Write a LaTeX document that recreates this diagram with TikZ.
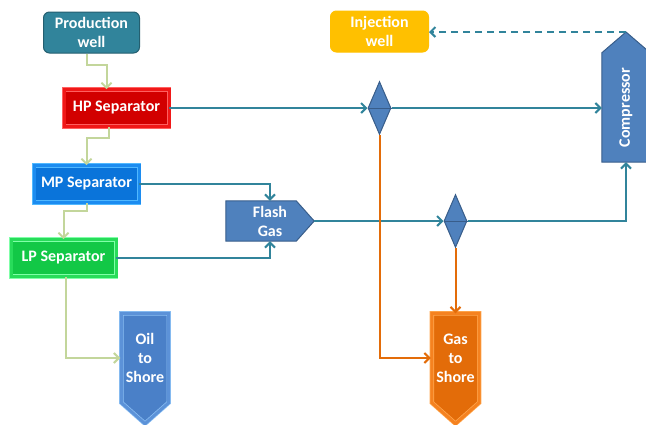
\documentclass[tikz,border=0pt]{standalone}
\usepackage{fontspec}
\setmainfont{Carlito}
\usetikzlibrary{shapes.geometric,arrows.meta}
\pgfdeclarelayer{background}
\pgfsetlayers{background,main}
\definecolor{wellteal}{HTML}{31849B}
\definecolor{welldark}{HTML}{245F70}
\definecolor{injyellow}{HTML}{FFC000}
\definecolor{hpred}{HTML}{D20000}
\definecolor{hpband}{HTML}{F01818}
\definecolor{hplight}{HTML}{FF6060}
\definecolor{mpblue}{HTML}{0A74DA}
\definecolor{mpband}{HTML}{1C8CF0}
\definecolor{mplight}{HTML}{50B8FF}
\definecolor{lpgreen}{HTML}{12C846}
\definecolor{lpband}{HTML}{28DC5A}
\definecolor{lplight}{HTML}{80FFA8}
\definecolor{oilblue}{HTML}{4A80C8}
\definecolor{oilband}{HTML}{5C92D8}
\definecolor{oillight}{HTML}{8CC0F4}
\definecolor{gasorange}{HTML}{E36C09}
\definecolor{gasband}{HTML}{F58220}
\definecolor{gaslight}{HTML}{FFA850}
\definecolor{unitblue}{HTML}{4F81BD}
\definecolor{unitdark}{HTML}{385D8A}
\definecolor{flowteal}{HTML}{31849B}
\definecolor{feedgreen}{HTML}{C3D69B}
\tikzstyle{box}=[rectangle, text=white, font=\bfseries\fontsize{16}{19}\selectfont, align=center, inner sep=0pt]
\tikzstyle{well}=[box, rounded corners=6pt, draw, line width=1pt, minimum width=96pt, minimum height=41pt]
\tikzstyle{separator}=[box, draw, line width=0.7pt, double distance=3pt, minimum width=105pt, minimum height=37pt]
\tikzstyle{shore}=[box, minimum width=47pt, minimum height=89pt]
\tikzstyle{bevel}=[line width=0.7pt, double distance=3pt, line join=miter]
\tikzstyle{unitline}=[fill=unitblue, draw=unitdark, line width=1pt]
\tikzstyle{valve}=[diamond, unitline, minimum width=23pt, minimum height=53pt, inner sep=0pt]
\tikzstyle{flow}=[draw=flowteal, line width=2pt, -{Straight Barb[length=5pt,width=10pt]}]
\tikzstyle{feed}=[flow, draw=feedgreen]
\tikzstyle{gasline}=[flow, draw=gasorange]
\begin{document}
\begin{tikzpicture}[x=1pt, y=-1pt]
            \useasboundingbox (0,0) rectangle (646,424);

            % wells and separators
            \node[well, fill=wellteal, draw=welldark] (prod) at (91.5,32.5) {Production\\well};
            \node[well, fill=injyellow, draw=injyellow, minimum width=98pt] (inj) at (379.5,31.5) {Injection\\well};
            \node[separator, fill=hpred, draw=hplight, double=hpband] (hp) at (116.5,108) {HP Separator};
            \node[separator, fill=mpblue, draw=mplight, double=mpband] (mp) at (86.5,184) {MP Separator};
            \node[separator, fill=lpgreen, draw=lplight, double=lpband] (lp) at (63.5,258) {LP Separator};

            % blue units
            \node[box, minimum width=88pt, minimum height=40pt] (flash) at (270,221) {Flash\\Gas};
            \node[valve] (d1) at (379.5,108) {};
            \node[valve] (d2) at (455.5,221) {};
            \draw[unitdark, line width=1pt] (d1.west) -- (d1.east);
            \draw[unitdark, line width=1pt] (d2.west) -- (d2.east);
            \node[box, minimum width=48pt, minimum height=109pt] (comp) at (626,107.5) {\rotatebox{90}{Compressor}};
            \coordinate (comptip) at (626,32);

            % to shore
            \node[shore] (oil) at (145,358) {Oil\\to\\Shore};
            \node[shore] (gas) at (455.5,358) {Gas\\to\\Shore};

            \begin{pgfonlayer}{background}
                \path[unitline] (flash.north west) -- ([xshift=-18pt]flash.north east) -- (flash.east)
                    -- ([xshift=-18pt]flash.south east) -- (flash.south west) -- cycle;
                \path[unitline] (comp.south west) -- (comp.north west) -- (comptip)
                    -- (comp.north east) -- (comp.south east) -- cycle;
                \path[bevel, fill=oilblue, draw=oillight, double=oilband] (oil.north west) -- (oil.north east)
                    -- (oil.south east) -- ([yshift=-21pt]oil.south) -- (oil.south west) -- cycle;
                \path[bevel, fill=gasorange, draw=gaslight, double=gasband] (gas.north west) -- (gas.north east)
                    -- (gas.south east) -- ([yshift=-21pt]gas.south) -- (gas.south west) -- cycle;
            \end{pgfonlayer}

            % liquid path
            \draw[feed] ([xshift=-5pt]prod.south) -- ++(0,11) -| ([xshift=-10pt]hp.north);
            \draw[feed] ([xshift=-8pt]hp.south) -- ++(0,11) -| (mp.north);
            \draw[feed] (mp.south) -- ++(0,8) -| (lp.north);
            \draw[feed] ([xshift=2pt]lp.south) |- ([xshift=-1pt]oil.west);

            % gas path
            \draw[flow] (hp.east) -- (d1.west);
            \draw[flow] (d1.east) -- (d1.east -| comp.west);
            \draw[flow] (mp.east) -| (flash.north);
            \draw[flow] (lp.east) -| (flash.south);
            \draw[flow] (flash.east) -- (d2.west);
            \draw[flow] (d2.east) -| (comp.south);
            \draw[flow, dash pattern=on 7pt off 5pt] (comptip) -- (comptip -| inj.east);
            \draw[gasline] (d1.south) |- ([xshift=-1pt]gas.west);
            \draw[gasline] (d2.south) -- (gas.north);
        \end{tikzpicture}
\end{document}
